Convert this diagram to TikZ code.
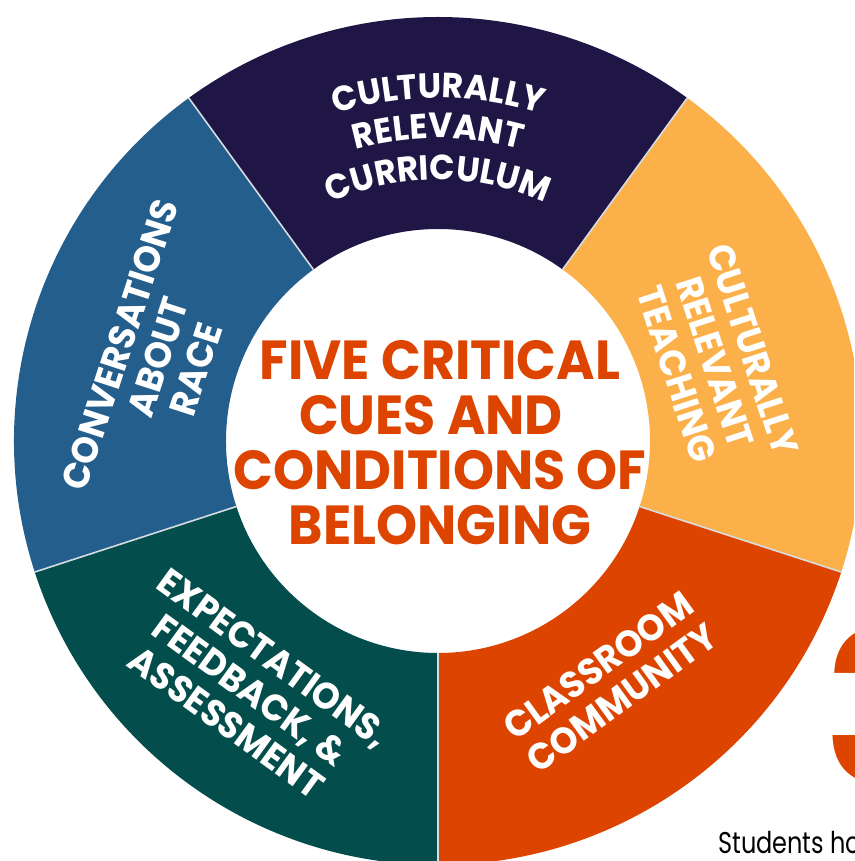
\documentclass[tikz,border=0pt]{standalone}
\usepackage{fontspec}
\usetikzlibrary{decorations.text}
\newfontfamily\hd{Poppins}[FakeStretch=0.95]
\newfontfamily\bodyfont{Poppins}[FakeStretch=0.8]
\definecolor{navy}{RGB}{31,22,70}
\definecolor{ocean}{RGB}{35,94,141}
\definecolor{amber}{RGB}{251,176,74}
\definecolor{rust}{RGB}{221,68,0}
\definecolor{pine}{RGB}{3,78,76}
\definecolor{seam}{RGB}{215,220,225}

\begin{document}
\begin{tikzpicture}[x=1pt,y=1pt,
  lbl/.style={text=white, align=center, inner sep=0pt,
    font=\hd\bfseries\fontsize{37}{40}\selectfont},
  sepline/.style={draw=seam, line width=1.6pt}]
\def\ri{212pt}
\def\ro{424pt}
% page frame
\useasboundingbox (-438,-420) rectangle (416,441);
\fill[white] (-438,-420) rectangle (416,441);
\clip (-438,-420) rectangle (416,441);

% ring segments
\foreach \a/\b/\c in {54/126/navy, 126/198/ocean, 198/270/pine, 270/342/rust, -18/54/amber}{
  \fill[\c] (\a:\ri) arc[start angle=\a, end angle=\b, radius=\ri]
     -- (\b:\ro) arc[start angle=\b, end angle=\a, radius=\ro] -- cycle;
}
% seams between segments
\foreach \a in {54,126,198,270,342}{
  \draw[sepline] (\a:\ri) -- (\a:\ro);
}

% centre title
\node[text=rust, align=center, inner sep=0pt,
  font=\hd\bfseries\fontsize{55}{55}\selectfont] (title) at (2,-2)
  {FIVE CRITICAL\\CUES AND\kern18pt\\CONDITIONS OF\\BELONGING};

% top segment, set along arcs
\foreach \r/\w in {343/CULTURALLY, 303/RELEVANT, 261/CURRICULUM}{
  \path[decorate, decoration={text along path, text align=center,
    text={|\hd\bfseries\fontsize{35}{40}\selectfont\color{white}|\w}}]
    (150:\r pt) arc[start angle=150, end angle=30, radius=\r pt];
}

% other segment labels
\node[lbl, rotate=-72] (teach) at (277,79) {CULTURALLY\\RELEVANT\\TEACHING};
\node[lbl, rotate=36] (community) at (172,-241) {CLASSROOM\\COMMUNITY};
\node[lbl, rotate=-36] (assess) at (-188,-249) {EXPECTATIONS,\\FEEDBACK, \&\\ASSESSMENT};
\node[lbl, rotate=72] (race) at (-280,84) {CONVERSATIONS\\ABOUT\\RACE};

% page material beside the wheel
\node[anchor=base west, inner sep=0pt, text=rust,
  font=\hd\bfseries\fontsize{212}{212}\selectfont] (digit) at (386,-343) {3};
\node[anchor=base west, inner sep=0pt, text=black,
  font=\bodyfont\fontsize{30}{30}\selectfont] (note) at (280,-412) {Students ho};
\end{tikzpicture}
\end{document}
